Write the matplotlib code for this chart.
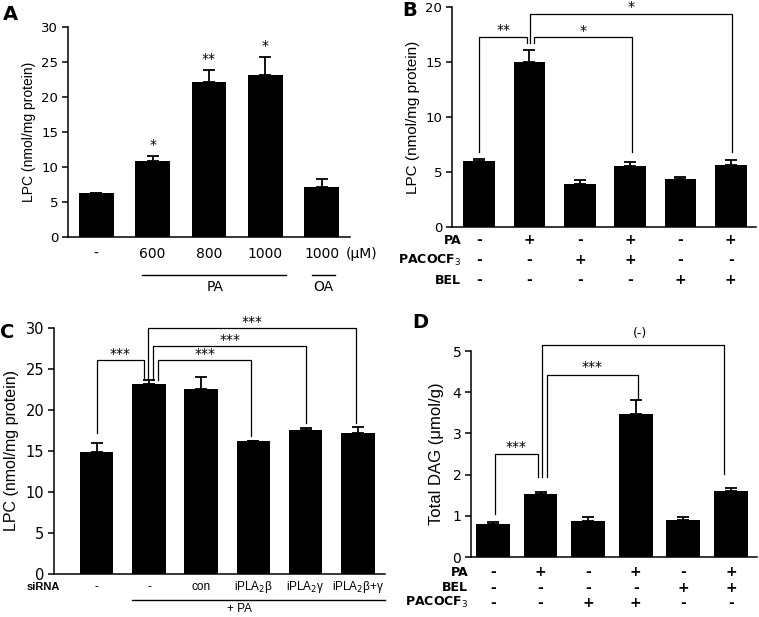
import matplotlib
matplotlib.use('Agg')
import matplotlib.pyplot as plt

plt.rcParams['font.family'] = ['DejaVu Sans']
plt.rcParams['mathtext.fontset'] = 'dejavusans'

# panel A
a_labels = ['-', '600', '800', '1000', '1000']
a_vals = [6.3, 10.8, 22.2, 23.1, 7.1]
a_errs = [0.0, 0.8, 1.6, 2.6, 1.2]
a_stars = ['', '*', '**', '*', '']

# panel B
b_vals = [6.0, 15.0, 3.9, 5.55, 4.35, 5.65]
b_errs = [0.2, 1.1, 0.4, 0.35, 0.15, 0.45]
b_rows = {'PA': ['-', '+', '-', '+', '-', '+'],
          'PACOCF$_3$': ['-', '-', '+', '+', '-', '-'],
          'BEL': ['-', '-', '-', '-', '+', '+']}
# (x1, x2, line y, left end, right end, text, text y)
b_brackets = [(0, 0.95, 17.3, 6.8, 16.7, '**', 17.9),
              (1.08, 3.03, 17.3, 16.7, 6.8, '*', 17.8),
              (1.02, 5.02, 19.4, 16.7, 6.8, '*', 20.0)]

# panel C
c_labels = ['-', '-', 'con', 'iPLA$_2$β', 'iPLA$_2$γ', 'iPLA$_2$β+γ']
c_vals = [14.9, 23.2, 22.6, 16.2, 17.5, 17.2]
c_errs = [1.1, 0.4, 1.4, 0.05, 0.3, 0.7]
c_brackets = [(0, 0.9, 26.1, 17.2, 23.7, '***', 26.8),
              (1.17, 2.96, 26.1, 23.7, 16.8, '***', 26.8),
              (1.08, 4.01, 27.8, 23.7, 18.4, '***', 28.5),
              (0.98, 4.97, 30.0, 23.7, 18.4, '***', 30.7)]

# panel D
d_vals = [0.80, 1.52, 0.88, 3.48, 0.91, 1.60]
d_errs = [0.04, 0.07, 0.09, 0.32, 0.07, 0.07]
d_rows = {'PA': ['-', '+', '-', '+', '-', '+'],
          'BEL': ['-', '-', '-', '-', '+', '+'],
          'PACOCF$_3$': ['-', '-', '+', '+', '-', '-']}
d_brackets = [(0.05, 0.94, 2.51, 1.05, 1.94, '***', 2.67),
              (1.13, 3.05, 4.41, 1.94, 3.84, '***', 4.6),
              (1.04, 4.85, 5.14, 1.94, 2.02, '', 5.4)]


def style(ax, ymax, step, fs):
    for s in ['top', 'right']:
        ax.spines[s].set_visible(False)
    for s in ['left', 'bottom']:
        ax.spines[s].set_linewidth(1.1)
    ax.set_ylim(0, ymax)
    ax.set_yticks(range(0, ymax + 1, step))
    ax.set_xticks([])
    ax.tick_params(axis='y', direction='out', length=4, width=1.1,
                   labelsize=fs, pad=3)


def bars(ax, vals, errs, width):
    xs = list(range(len(vals)))
    ax.bar(xs, vals, width, color='black')
    ax.errorbar(xs, vals, yerr=[[0] * len(vals), errs], fmt='none',
                ecolor='black', elinewidth=1.3, capsize=4, capthick=1.3)


def bracket(ax, x1, x2, y, y1, y2, text, ty):
    ax.plot([x1, x1, x2, x2], [y1, y, y, y2], color='black', lw=0.9,
            clip_on=False)
    if text:
        ax.text((x1 + x2) / 2, ty, text, ha='center', va='center',
                fontsize=10, clip_on=False)


def rows(ax, table, offsets, label_x):
    for (name, marks), off in zip(table.items(), offsets):
        for i, m in enumerate(marks):
            ax.annotate(m, xy=(i, 0), xycoords=('data', 'axes fraction'),
                        xytext=(0, -off), textcoords='offset points',
                        ha='center', va='center', fontsize=10,
                        fontweight='bold', annotation_clip=False)
        ax.annotate(name, xy=(label_x, 0), xycoords='axes fraction',
                    xytext=(0, -off), textcoords='offset points',
                    ha='right', va='center', fontsize=9,
                    fontweight='bold', annotation_clip=False)


fig = plt.figure(figsize=(7.59, 6.17), dpi=100)

# ---- A
ax = fig.add_axes([0.0896, 0.6159, 0.3715, 0.3404])
bars(ax, a_vals, a_errs, 0.62)
style(ax, 30, 5, 9.5)
ax.set_xlim(-0.5, 4.5)
ax.set_ylabel('LPC (nmol/mg protein)', family='Liberation Sans',
              fontsize=10, labelpad=4)
for i, (v, e, s) in enumerate(zip(a_vals, a_errs, a_stars)):
    if s:
        ax.text(i, v + e + 1.6, s, ha='center', va='center', fontsize=10)
for i, t in enumerate(a_labels):
    ax.annotate(t, xy=(i, 0), xycoords=('data', 'axes fraction'),
                xytext=(0, -12), textcoords='offset points',
                ha='center', va='center', fontsize=10, annotation_clip=False)
ax.annotate('(μM)', xy=(4.42, 0), xycoords=('data', 'axes fraction'),
            xytext=(0, -12), textcoords='offset points',
            ha='left', va='center', fontsize=10, annotation_clip=False)
tr = ax.get_xaxis_transform()
ax.plot([0.81, 3.36], [-0.18, -0.18], color='black', lw=1,
        transform=tr, clip_on=False)
ax.plot([3.83, 4.24], [-0.18, -0.18], color='black', lw=1,
        transform=tr, clip_on=False)
ax.text(2.1, -0.24, 'PA', transform=tr, ha='center', va='center',
        fontsize=10)
ax.text(4.03, -0.24, 'OA', transform=tr, ha='center', va='center',
        fontsize=10)

# ---- B
ax = fig.add_axes([0.5955, 0.6321, 0.4005, 0.3566])
bars(ax, b_vals, b_errs, 0.63)
style(ax, 20, 5, 9.5)
ax.set_xlim(-0.54, 5.5)
ax.set_ylabel('LPC (nmol/mg protein)', family='Liberation Sans',
              fontsize=11, labelpad=4)
for br in b_brackets:
    bracket(ax, *br)
rows(ax, b_rows, [9.5, 24, 38.5], 0.03)

# ---- C
ax = fig.add_axes([0.0711, 0.0697, 0.4361, 0.3987])
bars(ax, c_vals, c_errs, 0.64)
style(ax, 30, 5, 10.5)
ax.set_xlim(-0.82, 5.52)
ax.set_ylabel('LPC (nmol/mg protein)', family='Liberation Sans',
              fontsize=11.5, labelpad=5)
for br in c_brackets:
    bracket(ax, *br)
for i, t in enumerate(c_labels):
    ax.annotate(t, xy=(i, 0), xycoords=('data', 'axes fraction'),
                xytext=(0, -9.5), textcoords='offset points',
                ha='center', va='center', fontsize=8.5,
                family='Liberation Sans', annotation_clip=False)
ax.annotate('siRNA', xy=(-0.7, 0), xycoords=('data', 'axes fraction'),
            xytext=(0, -9.5), textcoords='offset points',
            ha='right', va='center', fontsize=8, fontweight='bold',
            family='Liberation Sans', annotation_clip=False)
tr = ax.get_xaxis_transform()
ax.plot([0.67, 5.52], [-0.105, -0.105], color='black', lw=1,
        transform=tr, clip_on=False)
ax.text(2.73, -0.143, '+ PA', transform=tr, ha='center', va='center',
        fontsize=8.5, family='Liberation Sans')

# ---- D
ax = fig.add_axes([0.6206, 0.0972, 0.3768, 0.3339])
bars(ax, d_vals, d_errs, 0.71)
style(ax, 5, 1, 10)
ax.set_xlim(-0.46, 5.55)
ax.set_ylabel('Total DAG (μmol/g)', family='Liberation Sans',
              fontsize=12, labelpad=6)
for br in d_brackets:
    bracket(ax, *br)
ax.text(3.1, 5.42, '(-)', ha='center', va='center', fontsize=9,
        clip_on=False)
rows(ax, d_rows, [11, 22, 33], -0.01)

fig.text(0.004, 1 - 15 / 617, 'A', fontsize=14, fontweight='bold', va='center')
fig.text(402 / 759, 1 - 11 / 617, 'B', fontsize=14, fontweight='bold', va='center')
fig.text(0.0, 1 - 333 / 617, 'C', fontsize=14, fontweight='bold', va='center')
fig.text(412 / 759, 1 - 322 / 617, 'D', fontsize=14, fontweight='bold', va='center')

fig.savefig('out.png', dpi=100)
